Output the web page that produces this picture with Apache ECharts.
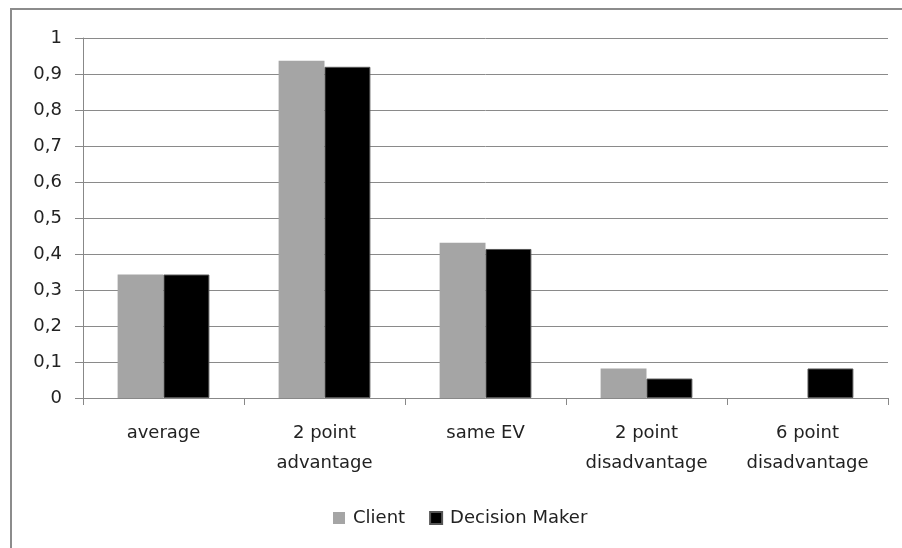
<!DOCTYPE html>
<html><head><meta charset="utf-8">
<script src="https://cdn.jsdelivr.net/npm/echarts@6/dist/echarts.min.js"></script>
<style>html,body{margin:0;padding:0;background:#fff}#c{width:902px;height:548px}</style>
</head><body><div id="c"></div>
<script>
const categories = ['average', '2 point\nadvantage', 'same EV', '2 point\ndisadvantage', '6 point\ndisadvantage'];
const clientValues = [0.343, 0.937, 0.431, 0.082, 0];
const decisionMakerValues = [0.343, 0.920, 0.414, 0.054, 0.082];
const yTicks = {min: 0, max: 1, interval: 0.1};

const chart = echarts.init(document.getElementById('c'), null, {renderer: 'canvas'});
const font = 'DejaVu Sans, sans-serif';
chart.setOption({
  animation: false,
  backgroundColor: '#fff',
  graphic: [{type: 'rect', shape: {x: 11, y: 9, width: 900, height: 560}, style: {fill: 'none', stroke: '#8c8c8c', lineWidth: 2}, silent: true}],
  grid: {left: 83, right: 14, top: 38, bottom: 150},
  legend: {
    top: 504, left: 328, itemWidth: 12, itemHeight: 12, itemGap: 24,
    icon: 'rect',
    textStyle: {fontFamily: font, fontSize: 18, color: '#222', padding: [0, 0, 0, 3]},
    data: ['Client', 'Decision Maker']
  },
  xAxis: {
    type: 'category', data: categories,
    axisLine: {lineStyle: {color: '#888', width: 1}},
    axisTick: {show: true, interval: 0, length: 7, lineStyle: {color: '#888'}},
    axisLabel: {interval: 0, hideOverlap: false, fontFamily: font, fontSize: 18, color: '#222', lineHeight: 30, margin: 20}
  },
  yAxis: {
    type: 'value', min: yTicks.min, max: yTicks.max, interval: yTicks.interval,
    axisLine: {show: true, lineStyle: {color: '#888'}},
    axisTick: {show: true, length: 8, lineStyle: {color: '#888'}},
    splitLine: {lineStyle: {color: '#8a8a8a', width: 1}},
    axisLabel: {fontFamily: font, fontSize: 18, color: '#222', margin: 21,
      formatter: v => (Math.round(v * 10) / 10).toString().replace('.', ',')}
  },
  series: [
    {name: 'Client', type: 'bar', data: clientValues, barGap: '0%', barCategoryGap: '43%',
     itemStyle: {color: '#a5a5a5'}},
    {name: 'Decision Maker', type: 'bar', data: decisionMakerValues,
     itemStyle: {color: '#000', borderColor: '#555', borderWidth: 1}}
  ]
});
</script></body></html>
